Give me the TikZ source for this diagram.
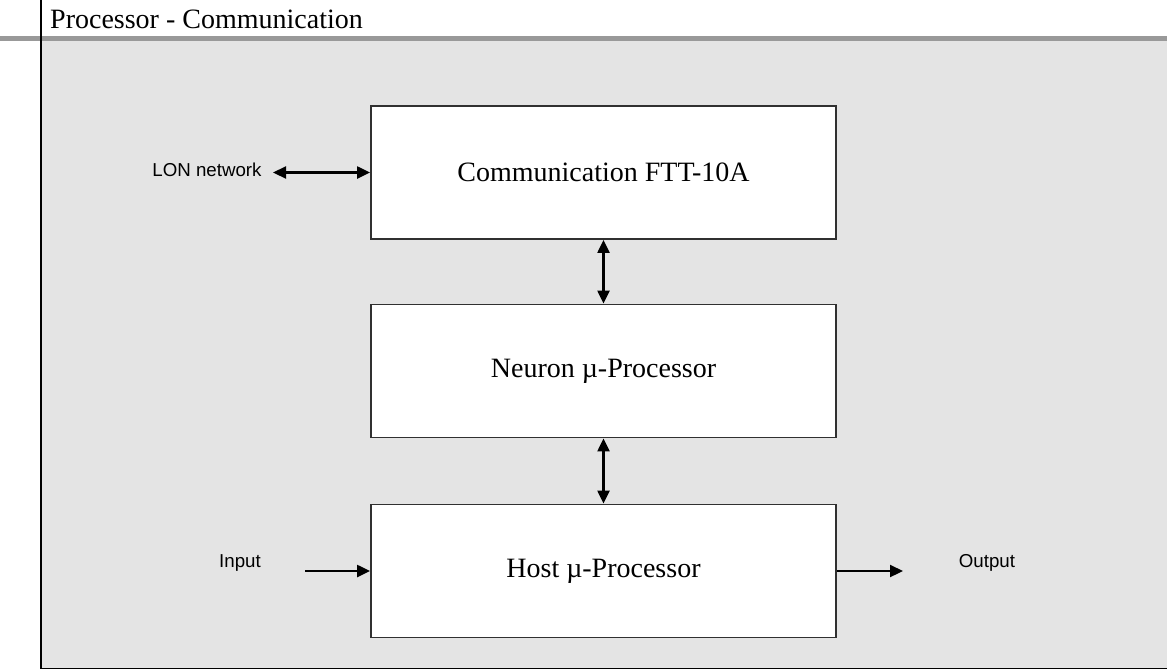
\documentclass[tikz,border=0pt]{standalone}
\usepackage{fontspec}
\setmainfont{Liberation Serif}
\newfontfamily\arialf{Liberation Sans}
\usetikzlibrary{arrows.meta}
\definecolor{panelgray}{HTML}{E4E4E4}
\definecolor{bargray}{HTML}{999999}
\definecolor{boxedge}{HTML}{303030}
\tikzset{
  block/.style={draw=boxedge, line width=1.8pt, fill=white, minimum width=465pt, minimum height=133pt, inner sep=0pt, font=\fontsize{28}{32}\selectfont},
  lbl/.style={font=\arialf\fontsize{18.7}{22}\selectfont, inner sep=0pt},
  link/.style={line width=2.2pt, -{Triangle[length=13pt,width=12pt]}},
  dlink/.style={line width=2.2pt, {Triangle[length=13pt,width=12pt]}-{Triangle[length=13pt,width=12pt]}}
}
\begin{document}
\begin{tikzpicture}[x=1pt,y=-1pt]
\useasboundingbox (0,0) rectangle (1167,670);
% panel
\fill[panelgray] (41,41) rectangle (1167,668);
\fill[bargray] (0,36) rectangle (1167,41);
\draw[black, line width=1.8pt] (41,0) -- (41,668.5) -- (1167,668.5);
\node[anchor=base west, inner sep=0pt, font=\fontsize{28}{32}\selectfont] (title) at (50,28) {Processor - Communication};
% blocks
\node[block] (comm) at (603.5,172.5) {Communication FTT-10A};
\node[block] (neuron) at (603.5,371) {Neuron µ-Processor};
\node[block] (host) at (603.5,571) {Host µ-Processor};
% labels
\node[lbl] (lon) at (207,170) {LON network};
\node[lbl] (in) at (240,563) {Input};
\node[lbl] (out) at (987,563) {Output};
\coordinate (lonA) at (273,172.5);
\coordinate (inA) at (305,571);
\coordinate (outB) at (903,571);
% connectors
\draw[dlink] (lonA) -- (comm.west);
\draw[dlink] (comm.south) -- (neuron.north);
\draw[dlink] (neuron.south) -- (host.north);
\draw[link] (inA) -- (host.west);
\draw[link] (host.east) -- (outB);
\end{tikzpicture}
\end{document}
